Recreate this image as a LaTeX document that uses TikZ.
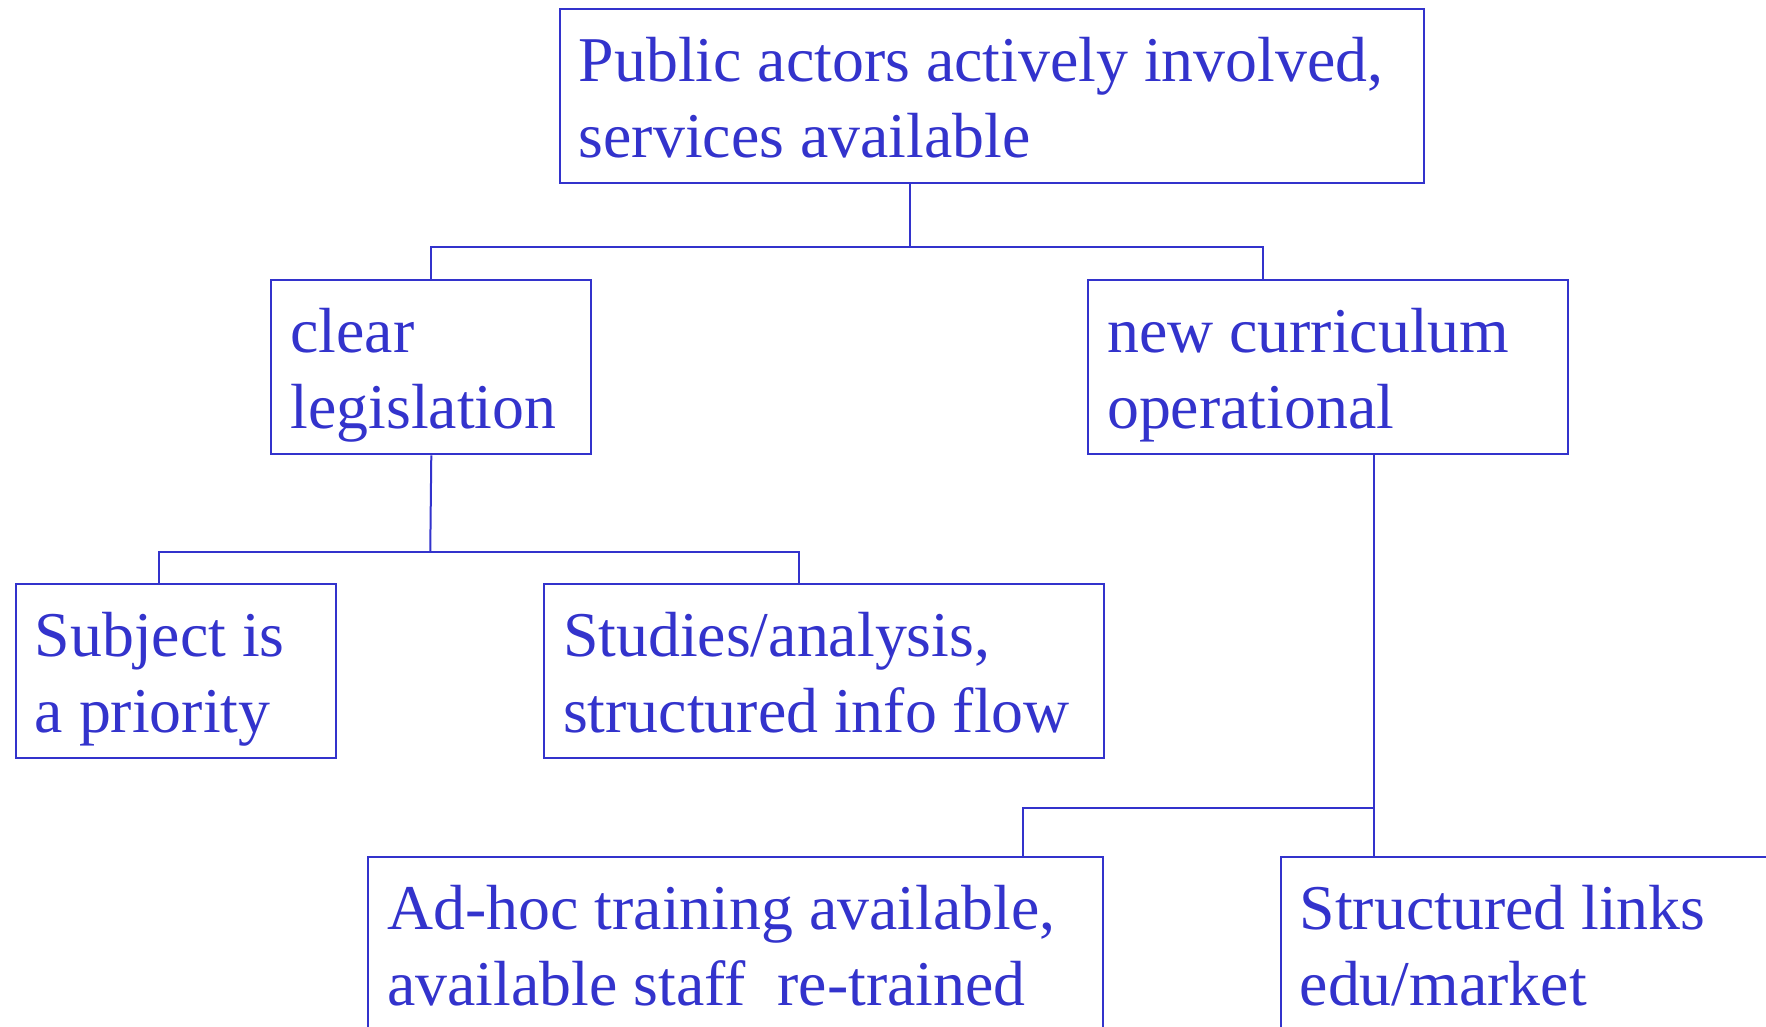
\documentclass[tikz,border=0pt]{standalone}
\usepackage{fontspec}
\setmainfont{Liberation Serif}
\definecolor{myblue}{HTML}{3333CC}
\begin{document}
\begin{tikzpicture}[x=1pt,y=-1pt,
  box/.style={draw=myblue, line width=2pt, minimum width=#1, minimum height=174pt, anchor=north west, inner sep=0pt},
  txt/.style={anchor=north west, inner sep=0pt, align=left, text=myblue,
    font=\fontsize{63.8}{76}\selectfont, execute at begin node=\strut},
  conn/.style={draw=myblue, line width=2pt}]
\useasboundingbox (0,0) rectangle (1766,1026);
\clip (0,0) rectangle (1766,1026);
% boxes
\node[box=864pt] (top) at (558.6,7.9) {};
\node[box=320pt] (leg) at (270.3,279.3) {};
\node[box=480pt] (cur) at (1086.9,279.3) {};
\node[box=320pt] (subj) at (14.6,583.4) {};
\node[box=560pt] (stud) at (542.9,583.4) {};
\node[box=735pt] (adhoc) at (367.2,856) {};
\node[box=570pt] (links) at (1279.5,856) {};
% texts
\node[txt] (toptxt) at ([shift={(20,29)}]top.north west) {Public actors actively involved,\\services available};
\node[txt] (legtxt) at ([shift={(20,29)}]leg.north west) {clear\\legislation};
\node[txt] (curtxt) at ([shift={(20,29)}]cur.north west) {new curriculum\\operational};
\node[txt] (subjtxt) at ([shift={(20,29)}]subj.north west) {Subject is\\a priority};
\node[txt] (studtxt) at ([shift={(20,29)}]stud.north west) {Studies/analysis,\\structured info flow};
\node[txt] (adhoctxt) at ([shift={(20,29)}]adhoc.north west) {Ad-hoc training available,\\available staff\ \ re-trained};
\node[txt] (linkstxt) at ([shift={(20,29)}]links.north west) {Structured links\\edu/market};
% connectors
\coordinate (j1) at (910,246.7);
\coordinate (k1) at (1262.6,246.7);
\draw[conn] (j1 |- top.south) -- (j1) -| (leg.north);
\draw[conn] (j1) -- (k1) -- (k1 |- cur.north);
\coordinate (j2) at (430.25,551.9);
\coordinate (k2a) at (158.8,551.9);
\coordinate (k2b) at (798.5,551.9);
\draw[conn] (leg.south) -- (j2);
\draw[conn] (k2a |- subj.north) -- (k2a) -- (k2b) -- (k2b |- stud.north);
\coordinate (j3) at (1374,807.6);
\coordinate (k3) at (1022.7,807.6);
\draw[conn] (j3 |- cur.south) -- (j3 |- links.north);
\draw[conn] (j3) -- (k3) -- (k3 |- adhoc.north);
\end{tikzpicture}
\end{document}
